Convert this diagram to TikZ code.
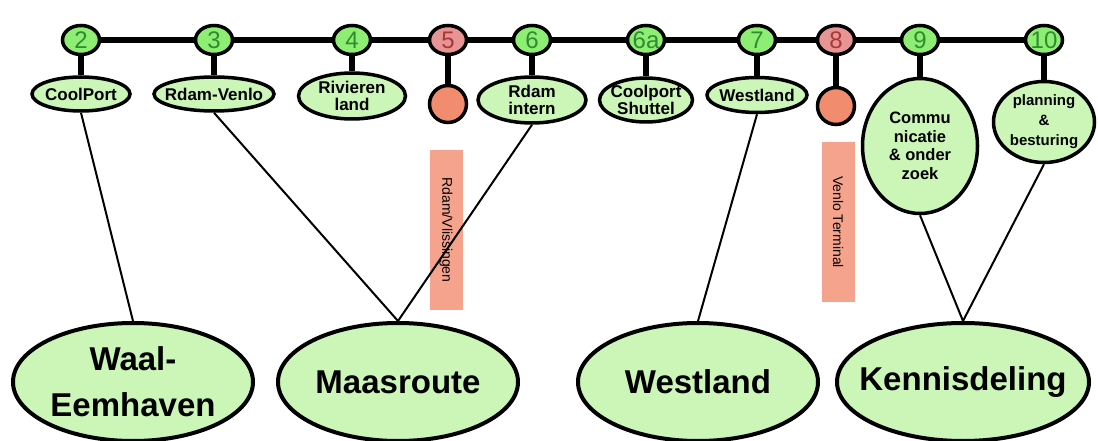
\documentclass[tikz,border=0pt]{standalone}
\usepackage{fontspec}
\setmainfont{Liberation Sans}
\usepackage{tikz}
\usetikzlibrary{shapes.geometric}
\definecolor{stopgreen}{HTML}{8EEE74}
\definecolor{numgreen}{HTML}{2E8B2E}
\definecolor{stopred}{HTML}{E89494}
\definecolor{numred}{HTML}{A83838}
\definecolor{paleleaf}{HTML}{CCF5B8}
\definecolor{dotorange}{HTML}{F28C6E}
\definecolor{tagorange}{HTML}{F5A38C}

\begin{document}
\begin{tikzpicture}[
  x=1pt, y=-1pt,
  stop/.style={
    ellipse,
    draw=black,
    line width=3.5pt,
    fill=stopgreen,
    text=numgreen,
    minimum width=37pt,
    minimum height=29pt,
    inner xsep=-6pt,
    inner ysep=-4pt,
    font=\fontsize{24}{24}\selectfont
  },
  redstop/.style={
    stop,
    fill=stopred,
    text=numred
  },
  topic/.style={
    ellipse,
    draw=black,
    line width=3.5pt,
    fill=paleleaf,
    align=center,
    inner xsep=-20pt,
    inner ysep=-6pt,
    font=\bfseries\fontsize{17}{17}\selectfont
  },
  dot/.style={
    circle,
    draw=black,
    line width=3.5pt,
    fill=dotorange,
    minimum size=37pt,
    inner sep=0pt
  },
  route/.style={
    ellipse,
    draw=black,
    line width=4pt,
    fill=paleleaf,
    align=center,
    minimum width=240pt,
    minimum height=118pt,
    inner xsep=-40pt,
    inner ysep=-10pt,
    font=\bfseries\fontsize{33}{46}\selectfont
  },
  tag/.style={
    rectangle,
    fill=tagorange,
    rotate=-90,
    minimum width=160pt,
    minimum height=33pt,
    inner sep=0pt,
    font=\fontsize{14}{14}\selectfont
  },
  rail/.style={line width=6pt},
  stem/.style={line width=6pt},
  link/.style={line width=2pt}
]
\useasboundingbox (0,0) rectangle (1098,441);

% top line with the stops
\node[stop] (c2) at (81,40) {2};
\node[stop] (c3) at (214,40) {3};
\node[stop] (c4) at (352,40) {4};
\node[redstop] (c5) at (448,40) {5};
\node[stop] (c6) at (532,40) {6};
\node[stop] (c6a) at (646,40) {6a};
\node[stop] (c7) at (757,40) {7};
\node[redstop] (c8) at (836,40) {8};
\node[stop] (c9) at (920,40) {9};
\node[stop] (c10) at (1044,40) {10};

\draw[rail] (c2) -- (c3) -- (c4) -- (c5) -- (c6) -- (c6a) -- (c7) -- (c8) -- (c9) -- (c10);

% projects under the stops
\node[topic, minimum width=98pt, minimum height=34pt] (s2) at (81,94) {CoolPort};
\node[topic, minimum width=120pt, minimum height=34pt] (s3) at (214,94) {Rdam-Venlo};
\node[topic, minimum width=107pt, minimum height=46pt] (s4) at (352,96) {Rivieren\\land};
\node[dot] (s5) at (448,104) {};
\node[topic, minimum width=108pt, minimum height=46pt] (s6) at (532,100) {Rdam\\intern};
\node[topic, minimum width=93pt, minimum height=44pt] (s6a) at (646,100) {Coolport\\Shuttel};
\node[topic, minimum width=100pt, minimum height=35pt] (s7) at (757,95) {Westland};
\node[dot] (s8) at (836,106) {};
\node[topic, minimum width=115pt, minimum height=135pt,
  font=\bfseries\fontsize{16.5}{18.5}\selectfont] (s9) at (920,146) {Commu\\nicatie\\\& onder\\zoek};
\node[topic, minimum width=101pt, minimum height=81pt,
  font=\bfseries\fontsize{15}{20}\selectfont] (s10) at (1044,122) {planning\\\&\\besturing};

\foreach \k in {2,3,4,5,6,6a,7,8,9,10}
  \draw[stem] (c\k) -- (s\k);

% terminals
\node[tag] (t5) at (446,230) {Rdam/Vlissingen};
\node[tag] (t8) at (838,222) {Venlo Terminal};

% routes
\node[route] (waal) at (133,382) {Waal-\\Eemhaven};
\node[route] (maas) at (398,382) {Maasroute};
\node[route] (west) at (698,382) {Westland};
\node[route, minimum width=252pt] (kennis) at (963,382) {Kennisdeling};

\draw[link] (s2.south) -- (waal.north);
\draw[link] (s3.south) -- (maas.north);
\draw[link] (s6.south) -- (maas.north);
\draw[link] (s7.south) -- (west.north);
\draw[link] (s9.south) -- (kennis.north);
\draw[link] (s10.south) -- (kennis.north);

\end{tikzpicture}
\end{document}
